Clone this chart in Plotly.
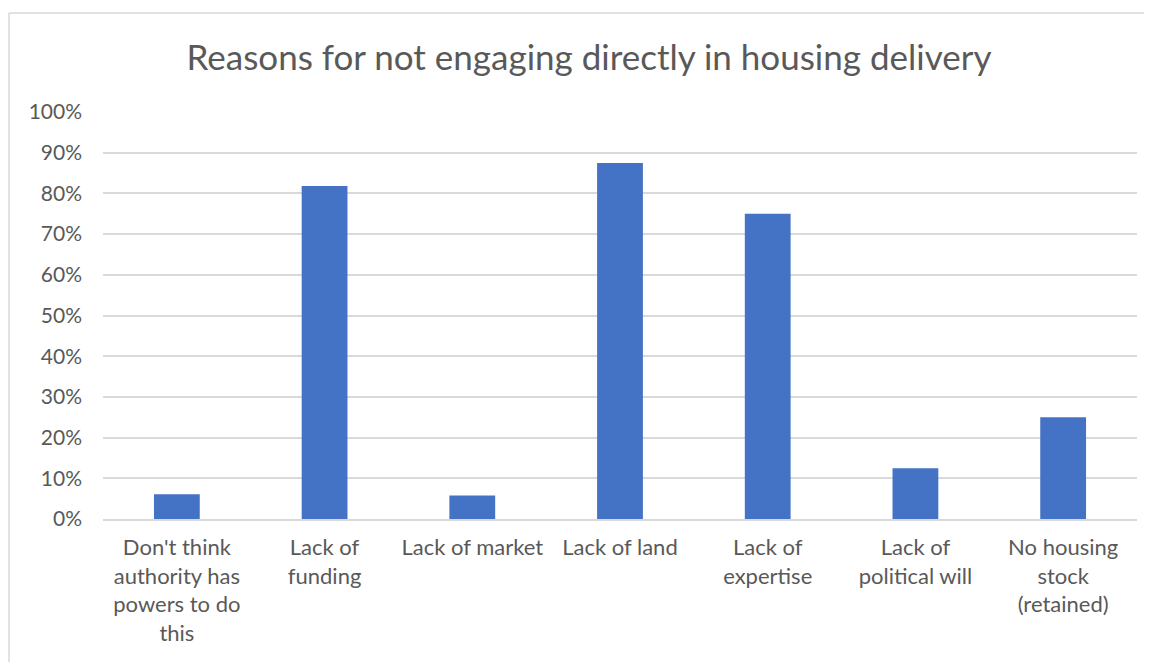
import plotly.graph_objects as go

categories = [
    "Don't think<br>authority has<br>powers to do<br>this",
    "Lack of<br>funding",
    "Lack of market",
    "Lack of land",
    "Lack of<br>expertise",
    "Lack of<br>political will",
    "No housing<br>stock<br>(retained)",
]
values = [0.061, 0.818, 0.058, 0.875, 0.75, 0.125, 0.25]
y_ticks = [i / 10 for i in range(11)]
y_tick_labels = [f"{i*10}%" for i in range(11)]

FONT = "Lato, 'Open Sans', sans-serif"
OFF = 8  # page body offset in the screenshot
W, H = 1152 - OFF, 662 - OFF
# target positions (screen px) of the plot area
PL, PR, PT, PB = 103, 1137, 112, 519
L = PL - OFF
T = PT - OFF
pw, ph = PR - PL, PB - PT
R = W - L - pw
B = H - T - ph

fig = go.Figure(
    go.Bar(
        x=categories,
        y=values,
        marker=dict(color="#4472C4", line=dict(width=0)),
        width=0.31,
    )
)

def px_x(p):
    return (p - PL) / pw

def px_y(p):
    return (PB - p) / ph

border = dict(color="#d9d9d9", width=1.5)

fig.update_layout(
    width=W,
    height=H,
    margin=dict(l=L, r=R, t=T, b=B),
    paper_bgcolor="white",
    plot_bgcolor="white",
    showlegend=False,
    font=dict(family=FONT, color="#595959", size=21),
    title=dict(
        text="Reasons for not engaging directly in housing delivery",
        x=(589 - OFF) / W,
        xanchor="center",
        xref="container",
        y=1 - (58 - OFF) / H,
        yanchor="middle",
        yref="container",
        font=dict(family=FONT, size=35, color="#595959"),
    ),
    xaxis=dict(
        showgrid=False,
        showline=True,
        linecolor="#d9d9d9",
        linewidth=1.5,
        tickfont=dict(size=22, color="#595959"),
        ticks="",
        tickangle=0,
        ticklabelstandoff=8,
    ),
    yaxis=dict(
        range=[0, 1.0],
        tickvals=y_ticks,
        ticktext=y_tick_labels,
        showgrid=True,
        gridcolor="#d9d9d9",
        gridwidth=1.5,
        zeroline=False,
        showline=False,
        ticks="",
        tickfont=dict(size=21, color="#595959"),
        ticklabelstandoff=20,
    ),
    shapes=[
        dict(type="line", xref="paper", yref="paper",
             x0=px_x(9), x1=px_x(1152), y0=px_y(13), y1=px_y(13),
             line=border, layer="below"),
        dict(type="line", xref="paper", yref="paper",
             x0=px_x(9), x1=px_x(9), y0=px_y(13), y1=px_y(662),
             line=border, layer="below"),
    ],
)

fig.write_html(
    "out.html",
    post_script="document.documentElement.style.overflow='hidden';document.body.style.overflow='hidden';",
)
